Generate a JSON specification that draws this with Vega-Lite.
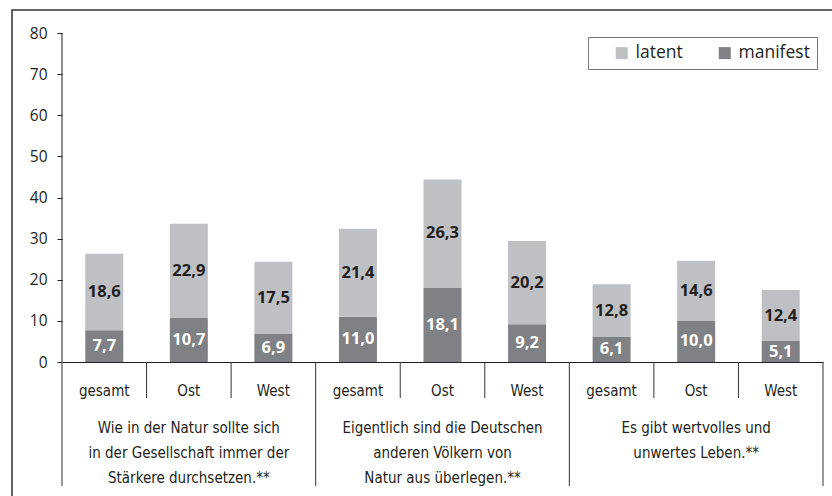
{
  "$schema": "https://vega.github.io/schema/vega-lite/v6.json",
  "width": 830,
  "height": 495,
  "autosize": {"type": "none"},
  "padding": {"left": 12, "top": 10, "right": 0, "bottom": 0},
  "background": "white",
  "data": {
    "values": [
      {"id": "1 gesamt", "gruppe": "gesamt", "frage": "Wie in der Natur sollte sich\nin der Gesellschaft immer der\nStärkere durchsetzen.**", "typ": "manifest", "wert": 7.7},
      {"id": "1 gesamt", "gruppe": "gesamt", "frage": "Wie in der Natur sollte sich\nin der Gesellschaft immer der\nStärkere durchsetzen.**", "typ": "latent", "wert": 18.6},
      {"id": "1 Ost", "gruppe": "Ost", "frage": "Wie in der Natur sollte sich\nin der Gesellschaft immer der\nStärkere durchsetzen.**", "typ": "manifest", "wert": 10.7},
      {"id": "1 Ost", "gruppe": "Ost", "frage": "Wie in der Natur sollte sich\nin der Gesellschaft immer der\nStärkere durchsetzen.**", "typ": "latent", "wert": 22.9},
      {"id": "1 West", "gruppe": "West", "frage": "Wie in der Natur sollte sich\nin der Gesellschaft immer der\nStärkere durchsetzen.**", "typ": "manifest", "wert": 6.9},
      {"id": "1 West", "gruppe": "West", "frage": "Wie in der Natur sollte sich\nin der Gesellschaft immer der\nStärkere durchsetzen.**", "typ": "latent", "wert": 17.5},
      {"id": "2 gesamt", "gruppe": "gesamt", "frage": "Eigentlich sind die Deutschen\nanderen Völkern von\nNatur aus überlegen.**", "typ": "manifest", "wert": 11.0},
      {"id": "2 gesamt", "gruppe": "gesamt", "frage": "Eigentlich sind die Deutschen\nanderen Völkern von\nNatur aus überlegen.**", "typ": "latent", "wert": 21.4},
      {"id": "2 Ost", "gruppe": "Ost", "frage": "Eigentlich sind die Deutschen\nanderen Völkern von\nNatur aus überlegen.**", "typ": "manifest", "wert": 18.1},
      {"id": "2 Ost", "gruppe": "Ost", "frage": "Eigentlich sind die Deutschen\nanderen Völkern von\nNatur aus überlegen.**", "typ": "latent", "wert": 26.3},
      {"id": "2 West", "gruppe": "West", "frage": "Eigentlich sind die Deutschen\nanderen Völkern von\nNatur aus überlegen.**", "typ": "manifest", "wert": 9.2},
      {"id": "2 West", "gruppe": "West", "frage": "Eigentlich sind die Deutschen\nanderen Völkern von\nNatur aus überlegen.**", "typ": "latent", "wert": 20.2},
      {"id": "3 gesamt", "gruppe": "gesamt", "frage": "Es gibt wertvolles und\nunwertes Leben.**", "typ": "manifest", "wert": 6.1},
      {"id": "3 gesamt", "gruppe": "gesamt", "frage": "Es gibt wertvolles und\nunwertes Leben.**", "typ": "latent", "wert": 12.8},
      {"id": "3 Ost", "gruppe": "Ost", "frage": "Es gibt wertvolles und\nunwertes Leben.**", "typ": "manifest", "wert": 10.0},
      {"id": "3 Ost", "gruppe": "Ost", "frage": "Es gibt wertvolles und\nunwertes Leben.**", "typ": "latent", "wert": 14.6},
      {"id": "3 West", "gruppe": "West", "frage": "Es gibt wertvolles und\nunwertes Leben.**", "typ": "manifest", "wert": 5.1},
      {"id": "3 West", "gruppe": "West", "frage": "Es gibt wertvolles und\nunwertes Leben.**", "typ": "latent", "wert": 12.4}
    ]
  },
  "layer": [
    {
      "mark": {"type": "bar", "width": 38},
      "encoding": {
        "x": {
          "field": "id", "type": "nominal", "title": null,
          "scale": {"domain": ["1 gesamt", "1 Ost", "1 West", "2 gesamt", "2 Ost", "2 West", "3 gesamt", "3 Ost", "3 West"], "range": [50, 811], "paddingInner": 0, "paddingOuter": 0},
          "axis": {
            "orient": "bottom", "offset": -143, "ticks": false, "domain": true, "domainColor": "#231f20", "domainWidth": 1,
            "labelExpr": "substring(datum.value, 2)", "labelAngle": 0, "labelBaseline": "alphabetic", "labelPadding": 33,
            "labelFont": "DejaVu Sans Condensed", "labelFontSize": 15, "labelColor": "#231f20"
          }
        },
        "y": {
          "field": "wert", "type": "quantitative", "title": null, "stack": "zero",
          "scale": {"domain": [-34.772, 85.593], "nice": false, "zero": false},
          "axis": {
            "orient": "left", "offset": -50, "domain": false, "grid": false, "values": [0, 10, 20, 30, 40, 50, 60, 70, 80],
            "tickSize": 5, "tickColor": "#231f20", "labelPadding": 10, "labelFont": "Open Sans", "labelFontSize": 15.5, "labelColor": "#231f20"
          }
        },
        "color": {
          "field": "typ", "type": "nominal",
          "scale": {"domain": ["latent", "manifest"], "range": ["#bfc0c3", "#808184"]},
          "legend": {
            "title": null, "orient": "none", "legendX": 576, "legendY": 27, "direction": "horizontal",
            "strokeColor": "#777777", "padding": 7, "symbolType": "square", "symbolSize": 144, "symbolOffset": 18,
            "symbolStrokeWidth": 0, "labelFont": "Open Sans", "labelFontSize": 17.5, "labelColor": "#231f20", "labelOffset": 5, "columnPadding": 15
          }
        },
        "order": {"field": "typ", "sort": "descending"}
      }
    },
    {
      "transform": [
        {"stack": "wert", "groupby": ["id"], "sort": [{"field": "typ", "order": "descending"}], "as": ["lo", "hi"]},
        {"calculate": "(datum.lo + datum.hi) / 2", "as": "mitte"}
      ],
      "mark": {"type": "text", "font": "Open Sans", "fontWeight": "bold", "fontSize": 16.5, "baseline": "middle"},
      "encoding": {
        "x": {"field": "id", "type": "nominal", "title": null},
        "y": {"field": "mitte", "type": "quantitative", "title": null},
        "text": {"field": "wert", "type": "quantitative", "format": ".1f"},
        "color": {"condition": {"test": "datum.typ === 'manifest'", "value": "white"}, "value": "#231f20"}
      }
    },
    {
      "transform": [{"filter": "datum.typ === 'manifest' && datum.gruppe !== 'gesamt'"}],
      "mark": {"type": "rule", "color": "#333333", "strokeWidth": 1},
      "encoding": {
        "x": {"field": "id", "type": "nominal", "bandPosition": 0, "title": null},
        "y": {"datum": 0},
        "y2": {"datum": -8.754}
      }
    },
    {
      "transform": [{"filter": "datum.typ === 'manifest' && datum.gruppe === 'gesamt'"}],
      "mark": {"type": "rule", "color": "#333333", "strokeWidth": 1},
      "encoding": {
        "x": {"field": "id", "type": "nominal", "bandPosition": 0, "title": null},
        "y": {"datum": 0},
        "y2": {"datum": -30.15}
      }
    },
    {
      "transform": [{"filter": "datum.typ === 'manifest' && datum.id === '3 West'"}],
      "mark": {"type": "rule", "color": "#333333", "strokeWidth": 1},
      "encoding": {
        "x": {"field": "id", "type": "nominal", "bandPosition": 1, "title": null},
        "y": {"datum": 0},
        "y2": {"datum": -30.15}
      }
    },
    {
      "transform": [{"filter": "datum.typ === 'manifest' && datum.id === '1 gesamt'"}],
      "mark": {"type": "rule", "color": "#231f20", "strokeWidth": 1},
      "encoding": {
        "x": {"field": "id", "type": "nominal", "bandPosition": 0, "title": null},
        "y": {"datum": 80},
        "y2": {"datum": 0}
      }
    },
    {
      "transform": [{"filter": "datum.typ === 'manifest' && datum.gruppe === 'Ost'"}],
      "mark": {"type": "text", "font": "DejaVu Sans Condensed", "fontSize": 15, "baseline": "alphabetic", "align": "center", "lineBreak": "\n", "lineHeight": 25, "color": "#231f20"},
      "encoding": {
        "x": {"field": "id", "type": "nominal", "title": null},
        "y": {"datum": -17.26},
        "text": {"field": "frage"}
      }
    }
  ],
  "config": {
    "view": {"stroke": "#333333", "strokeWidth": 1.5},
    "locale": {"number": {"decimal": ",", "thousands": ".", "grouping": [3], "currency": ["", " €"]}}
  }
}
